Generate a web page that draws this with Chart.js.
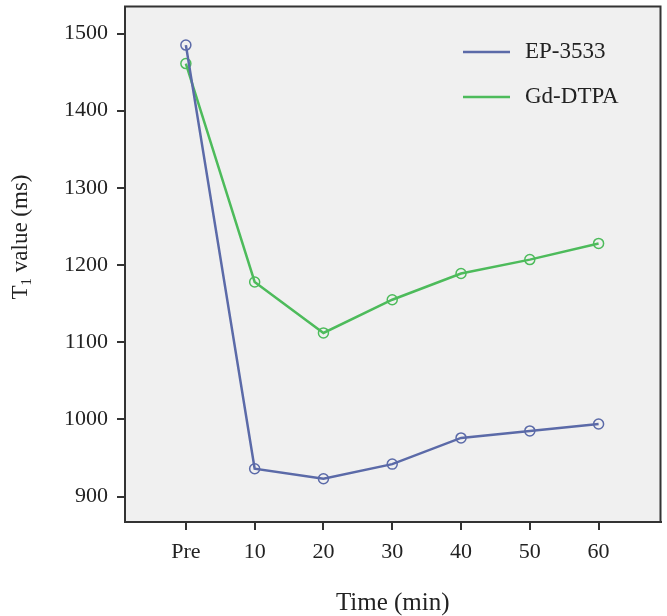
<!DOCTYPE html>
<html>
<head>
<meta charset="utf-8">
<script src="https://cdn.jsdelivr.net/npm/chart.js@4"></script>
<style>
  body { margin: 0; background: #fff; }
  #wrap { width: 667px; height: 616px; }
</style>
</head>
<body>
<div id="wrap"><canvas id="t1chart" width="667" height="616"></canvas></div>
<script>
var timeLabels = ['Pre', '10', '20', '30', '40', '50', '60'];
var ep3533 = [1485, 936, 923, 942, 976, 985, 994];
var gdDtpa = [1461, 1178, 1112, 1155, 1189, 1207, 1228];
var yTicks = [900, 1000, 1100, 1200, 1300, 1400, 1500];

function toPoints(vals) {
  return vals.map(function (v, i) { return { x: i, y: v }; });
}

// grey plot background + black frame
var frame = {
  id: 'frame',
  beforeDatasetsDraw: function (chart) {
    var a = chart.chartArea, ctx = chart.ctx;
    ctx.save();
    ctx.fillStyle = '#f0f0f0';
    ctx.fillRect(a.left, a.top, a.right - a.left, a.bottom - a.top);
    ctx.restore();
  },
  afterDraw: function (chart) {
    var a = chart.ctx, c = chart.chartArea;
    a.save();
    a.strokeStyle = '#333';
    a.lineWidth = 2;
    a.strokeRect(c.left, c.top, c.right - c.left, c.bottom - c.top);
    a.restore();
  }
};

// legend drawn inside the plot, top right
var innerLegend = {
  id: 'innerLegend',
  afterDraw: function (chart) {
    var ctx = chart.ctx;
    ctx.save();
    ctx.font = '23px "Liberation Serif"';
    ctx.textBaseline = 'middle';
    chart.data.datasets.forEach(function (ds, i) {
      var y = 52 + i * 45;
      ctx.strokeStyle = ds.borderColor;
      ctx.lineWidth = 2.5;
      ctx.beginPath();
      ctx.moveTo(463, y);
      ctx.lineTo(510, y);
      ctx.stroke();
      ctx.fillStyle = '#222';
      ctx.fillText(ds.label, 525, y);
    });
    ctx.restore();
  }
};

// y title with a real subscript 1
var yTitle = {
  id: 'yTitle',
  afterDraw: function (chart) {
    var ctx = chart.ctx;
    var big = '23px "Liberation Serif"', small = '15px "Liberation Serif"';
    ctx.save();
    ctx.translate(19, 237);
    ctx.rotate(-Math.PI / 2);
    ctx.fillStyle = '#222';
    ctx.textBaseline = 'alphabetic';
    ctx.font = big;
    var wT = ctx.measureText('T').width;
    var wRest = ctx.measureText(' value (ms)').width;
    ctx.font = small;
    var w1 = ctx.measureText('1').width;
    var x = -(wT + w1 + wRest) / 2;
    var base = 8;
    ctx.font = big;
    ctx.fillText('T', x, base);
    ctx.font = small;
    ctx.fillText('1', x + wT, base + 4);
    ctx.font = big;
    ctx.fillText(' value (ms)', x + wT + w1, base);
    ctx.restore();
  }
};

var ctx = document.getElementById('t1chart').getContext('2d');

var t1Chart = new Chart(ctx, {
  type: 'line',
  data: {
    datasets: [{
      label: 'EP-3533',
      data: toPoints(ep3533),
      borderColor: '#5b6aa8',
      backgroundColor: 'rgba(0,0,0,0)',
      borderWidth: 2.5,
      pointRadius: 5,
      pointBorderWidth: 1.5,
      pointBackgroundColor: 'rgba(0,0,0,0)',
      pointBorderColor: '#5b6aa8',
      tension: 0
    }, {
      label: 'Gd-DTPA',
      data: toPoints(gdDtpa),
      borderColor: '#4dbb5b',
      backgroundColor: 'rgba(0,0,0,0)',
      borderWidth: 2.5,
      pointRadius: 5,
      pointBorderWidth: 1.5,
      pointBackgroundColor: 'rgba(0,0,0,0)',
      pointBorderColor: '#4dbb5b',
      tension: 0
    }]
  },
  options: {
    responsive: false,
    animation: false,
    layout: { padding: { top: 5, right: 4, left: 0, bottom: 0 } },
    plugins: { legend: { display: false }, tooltip: { enabled: false } },
    scales: {
      x: {
        type: 'linear',
        min: -0.885,
        max: 6.9,
        afterBuildTicks: function (s) {
          s.ticks = timeLabels.map(function (l, i) { return { value: i }; });
        },
        afterFit: function (s) {
          s.height = 94;
          s.paddingLeft = 0;
          s.paddingRight = 0;
        },
        ticks: {
          color: '#222',
          font: { family: 'Liberation Serif', size: 22 },
          padding: 9,
          maxRotation: 0,
          callback: function (v) { return timeLabels[v]; }
        },
        grid: { drawOnChartArea: false, drawTicks: true, tickLength: 8, color: '#333', lineWidth: 2 },
        border: { display: true, color: '#333', width: 2 },
        title: {
          display: true,
          text: 'Time (min)',
          color: '#222',
          font: { family: 'Liberation Serif', size: 25, lineHeight: 1 },
          padding: { top: 0, bottom: 0 }
        }
      },
      y: {
        min: 867,
        max: 1535,
        afterBuildTicks: function (s) {
          s.ticks = yTicks.map(function (v) { return { value: v }; });
        },
        afterFit: function (s) {
          s.width = 125;
          s.paddingTop = 0;
          s.paddingBottom = 0;
        },
        ticks: {
          color: '#222',
          font: { family: 'Liberation Serif', size: 22 },
          padding: 9,
          callback: function (v) { return String(v); }
        },
        grid: { drawOnChartArea: false, drawTicks: true, tickLength: 8, color: '#333', lineWidth: 2 },
        border: { display: true, color: '#333', width: 2 }
      }
    }
  },
  plugins: [frame, innerLegend, yTitle]
});
</script>
</body>
</html>
